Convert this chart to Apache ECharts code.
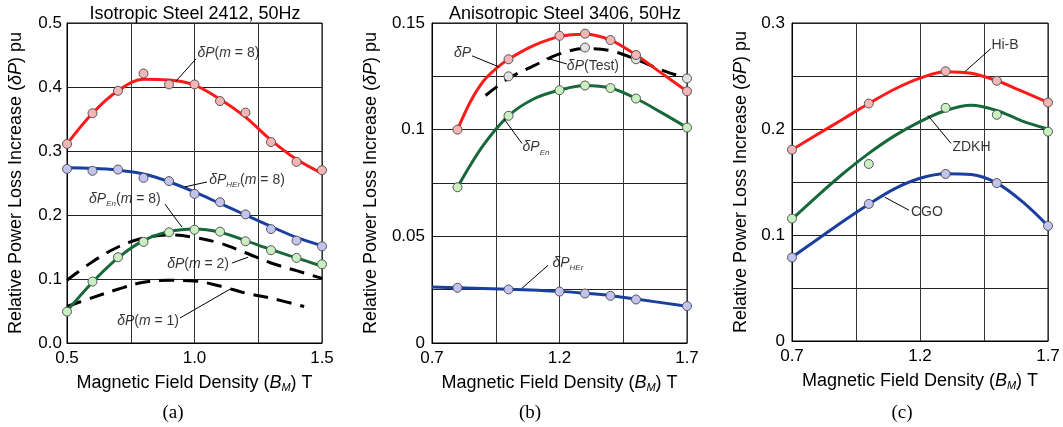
<!DOCTYPE html>
<html><head><meta charset="utf-8">
<script src="https://cdn.jsdelivr.net/npm/echarts@6/dist/echarts.min.js"></script>
<style>html,body{margin:0;padding:0;background:#fff}#c{width:1063px;height:427px}</style>
</head><body><div id="c"></div>
<script>
// ---------- Panel (a): Isotropic Steel 2412 ----------
const aB = [0.5,0.6,0.7,0.8,0.9,1.0,1.1,1.2,1.3,1.4,1.5];
const aDP8 = [0.311,0.359,0.394,0.421,0.404,0.404,0.378,0.360,0.314,0.283,0.270];
const aDP8Fit = [0.311,0.359,0.394,0.412,0.411,0.403,0.381,0.353,0.317,0.287,0.265];
const aHEr8 = [0.272,0.269,0.271,0.258,0.253,0.233,0.220,0.201,0.178,0.160,0.151];
const aHEr8Fit = [0.274,0.273,0.270,0.264,0.252,0.236,0.218,0.200,0.182,0.165,0.152];
const aEn8 = [0.049,0.096,0.134,0.158,0.173,0.177,0.174,0.159,0.145,0.133,0.123];
const aEn8Fit = [0.050,0.095,0.133,0.160,0.174,0.178,0.173,0.160,0.146,0.133,0.120];
const aDP2 = [0.098,0.127,0.150,0.164,0.169,0.165,0.156,0.141,0.125,0.113,0.101];
const aDP1B = [0.5,0.6,0.7,0.8,0.9,1.0,1.1,1.2,1.3,1.43];
const aDP1 = [0.057,0.071,0.084,0.095,0.098,0.097,0.089,0.078,0.070,0.057];

// ---------- Panel (b): Anisotropic Steel 3406 ----------
const bB = [0.8,1.0,1.2,1.3,1.4,1.5,1.7];
const bDP = [0.100,0.133,0.144,0.145,0.142,0.135,0.118];
const bDPFitB = [0.8,0.85,0.9,0.95,1.0,1.1,1.2,1.3,1.4,1.5,1.6,1.7];
const bDPFit = [0.100,0.113,0.1225,0.1285,0.133,0.1395,0.1436,0.1447,0.142,0.135,0.1265,0.118];
const bTestB = [1.0,1.3,1.5,1.7];
const bTest = [0.125,0.1385,0.133,0.124];
const bTestFitB = [0.91,1.0,1.1,1.2,1.3,1.4,1.5,1.6,1.7];
const bTestFit = [0.116,0.124,0.130,0.1355,0.138,0.137,0.133,0.128,0.124];
const bEn = [0.073,0.1065,0.1185,0.1207,0.1195,0.1146,0.101];
const bEnFitB = [0.8,0.9,1.0,1.1,1.2,1.3,1.4,1.5,1.6,1.7];
const bEnFit = [0.073,0.0925,0.1065,0.1145,0.1185,0.1207,0.1195,0.1146,0.108,0.101];
const bHEr = [0.0259,0.0251,0.0241,0.0232,0.0221,0.0204,0.0173];
const bHErFitB = [0.7,0.8,1.0,1.2,1.3,1.4,1.5,1.7];
const bHErFit = [0.0262,0.0259,0.0252,0.0242,0.0233,0.0222,0.0206,0.0172];

// ---------- Panel (c): steel grades ----------
const cB = [0.7,1.0,1.3,1.5,1.7];
const cHiB = [0.1805,0.224,0.2545,0.2455,0.225];
const cZDKH = [0.1155,0.167,0.220,0.2134,0.1975];
const cCGO = [0.0788,0.1293,0.1576,0.149,0.1086];
const cFitB = [0.7,0.8,0.9,1.0,1.1,1.2,1.3,1.4,1.5,1.6,1.7];
const cHiBFit = [0.1805,0.195,0.2095,0.224,0.2375,0.248,0.2541,0.2525,0.2455,0.2355,0.225];
const cZDKHFit = [0.115,0.137,0.158,0.177,0.1935,0.207,0.2175,0.2225,0.2175,0.2075,0.200];
const cCGOFit = [0.079,0.096,0.113,0.129,0.1435,0.1535,0.1578,0.157,0.149,0.1315,0.1086];

// ---------- annotation labels (data coordinates) ----------
const aNotes = [
  {text:'{i|δP}({i|m} = 8)', at:[1.133,0.453], from:[1.006,0.444], to:[0.927,0.409]},
  {text:'{i|δP}{s|HEr}({i|m} = 8)', at:[1.206,0.255], from:[1.049,0.2516], to:[0.963,0.244]},
  {text:'{i|δP}{s|En}({i|m} = 8)', at:[0.727,0.225], from:[0.884,0.217], to:[0.951,0.181]},
  {text:'{i|δP}({i|m} = 2)', at:[1.014,0.123], from:[1.147,0.125], to:[1.21,0.134]},
  {text:'{i|δP}({i|m} = 1)', at:[0.818,0.034], from:[0.943,0.039], to:[1.139,0.084]}
];
const bNotes = [
  {text:'{i|δP}', at:[0.82,0.136], from:[0.857,0.1346], to:[0.963,0.1294]},
  {text:'{i|δP}(Test)', at:[1.331,0.130], from:[1.229,0.1308], to:[1.147,0.1336]},
  {text:'{i|δP}{s|En}', at:[1.108,0.0916], from:[1.053,0.0935], to:[0.982,0.1051]},
  {text:'{i|δP}{s|HEr}', at:[1.233,0.0374], from:[1.155,0.0364], to:[1.053,0.0257]}
];
const cNotes = [
  {text:'Hi-B', at:[1.532,0.2787], from:[1.477,0.2759], to:[1.376,0.2542]},
  {text:'ZDKH', at:[1.401,0.1827], from:[1.321,0.1864], to:[1.231,0.2128]},
  {text:'CGO', at:[1.227,0.1215], from:[1.157,0.1234], to:[1.063,0.1356]}
];

const SANS = '"Liberation Sans", Arial, sans-serif';
const SERIF = '"Liberation Serif", "Times New Roman", serif';
const RED = '#ff1a1a', BLUE = '#1a3f9e', GREEN = '#17693a';
const RED_F = '#f5b5b5', BLUE_F = '#c3c3f0', GREEN_F = '#c8f0c0', GREY_F = '#e2e2e2';

const panels = [
  {title:'Isotropic Steel 2412, 50Hz', tag:'(a)', tagX:168, left:67, top:23, width:255, height:320,
   off:0.5, yMax:0.5, yStep:0.1, yLab:0.1, yFmt:v=>v.toFixed(1), yMargin:5, yNameGap:42, titleX:190},
  {title:'Anisotropic Steel 3406, 50Hz', tag:'(b)', tagX:525, left:432, top:23, width:255, height:320,
   off:0.7, yMax:0.15, yStep:0.025, yLab:0.05, yFmt:v=>String(+v.toFixed(3)), yMargin:7, yNameGap:52, titleX:560},
  {title:'', tag:'(c)', tagX:897, left:792, top:23, width:256, height:318,
   off:0.7, yMax:0.3, yStep:0.05, yLab:0.1, yFmt:v=>String(+v.toFixed(3)), yMargin:7, yNameGap:42, titleX:920}
];

const isMult = (v, s) => Math.abs(v / s - Math.round(v / s)) < 1e-6;
const pairs = (xs, ys, off) => xs.map((x, i) => [+(x - off).toFixed(5), ys[i]]);

const grids = [], xAxes = [], yAxes = [], titles = [], series = [];
panels.forEach((p, k) => {
  grids.push({left:p.left, top:p.top, width:p.width, height:p.height, show:true, borderColor:'#000', borderWidth:1, backgroundColor:'transparent'});
  xAxes.push({
    type:'value', gridIndex:k, min:0, max:1, interval:0.25,
    axisLine:{show:true, lineStyle:{color:'#000', width:1}}, axisTick:{show:false},
    splitLine:{show:true, lineStyle:{color:'#333', width:1}},
    axisLabel:{color:'#000', fontFamily:SANS, fontSize:17, margin:7,
      formatter:v => isMult(v, 0.5) ? (v + p.off).toFixed(1) : ''},
    name:'Magnetic Field Density ({i|B}{s|M}) T', nameLocation:'middle', nameGap:26,
    nameTextStyle:{color:'#000', fontFamily:SANS, fontSize:18, lineHeight:22,
      rich:{i:{fontStyle:'italic', fontFamily:SANS, fontSize:18, lineHeight:22, color:'#000'},
            s:{fontStyle:'italic', fontFamily:SANS, fontSize:11, lineHeight:11, verticalAlign:'bottom', color:'#000'}}}
  });
  yAxes.push({
    type:'value', gridIndex:k, min:0, max:p.yMax, interval:p.yStep,
    axisLine:{show:true, lineStyle:{color:'#000', width:1}}, axisTick:{show:false},
    splitLine:{show:true, lineStyle:{color:'#222', width:1}},
    axisLabel:{color:'#000', fontFamily:SANS, fontSize:17, margin:p.yMargin,
      formatter:v => isMult(v, p.yLab) ? p.yFmt(v) : ''},
    name:'Relative Power Loss Increase ({i|δP}) pu', nameLocation:'middle', nameRotate:90, nameGap:p.yNameGap,
    nameTextStyle:{color:'#000', fontFamily:SANS, fontSize:18,
      rich:{i:{fontStyle:'italic', fontFamily:SANS, fontSize:18, color:'#000'}}}
  });
  if (p.title) titles.push({text:p.title, left:p.titleX, top:0, textAlign:'center',
    textStyle:{color:'#000', fontFamily:SANS, fontSize:18, fontWeight:'normal'}});
  titles.push({text:p.tag, left:p.tagX, top:399, textAlign:'center',
    textStyle:{color:'#000', fontFamily:SERIF, fontSize:19, fontWeight:'normal'}});
});

function curve(k, xs, ys, color, dashed) {
  series.push({type:'line', xAxisIndex:k, yAxisIndex:k, data:pairs(xs, ys, panels[k].off),
    smooth:0.35, showSymbol:false, silent:true, z:3,
    lineStyle:{color:color, width:3, type:dashed ? [15, 9] : 'solid', cap:'butt'}});
}
function dots(k, xs, ys, fill) {
  series.push({type:'scatter', xAxisIndex:k, yAxisIndex:k, data:pairs(xs, ys, panels[k].off),
    symbol:'circle', symbolSize:9, z:5, silent:true,
    itemStyle:{color:fill, borderColor:'#555', borderWidth:1, opacity:1}});
}
function notes(k, list) {
  const off = panels[k].off;
  series.push({type:'scatter', xAxisIndex:k, yAxisIndex:k, z:8, silent:true,
    data:list.map(n => ({value:[n.at[0] - off, n.at[1]], label:{formatter:n.text}})),
    symbolSize:1, itemStyle:{color:'rgba(0,0,0,0)'},
    label:{show:true, position:'inside', color:'#000', fontFamily:SANS, fontSize:14, lineHeight:18,
      rich:{i:{fontStyle:'italic', fontFamily:SANS, fontSize:14, lineHeight:18, color:'#000'},
            s:{fontStyle:'italic', fontFamily:SANS, fontSize:8, lineHeight:9, verticalAlign:'bottom', color:'#000'}}},
    markLine:{silent:true, symbol:['none','none'], label:{show:false}, animation:false,
      lineStyle:{color:'#000', width:1, type:'solid'},
      data:list.map(n => [{coord:[n.from[0] - off, n.from[1]]}, {coord:[n.to[0] - off, n.to[1]]}])}
  });
}

// panel a
curve(0, aB, aDP2, '#000', true);
curve(0, aDP1B, aDP1, '#000', true);
curve(0, aB, aDP8Fit, RED, false);
curve(0, aB, aHEr8Fit, BLUE, false);
curve(0, aB, aEn8Fit, GREEN, false);
dots(0, aB, aDP8, RED_F);
dots(0, aB, aHEr8, BLUE_F);
dots(0, aB, aEn8, GREEN_F);
notes(0, aNotes);
// panel b
curve(1, bTestFitB, bTestFit, '#000', true);
curve(1, bDPFitB, bDPFit, RED, false);
curve(1, bEnFitB, bEnFit, GREEN, false);
curve(1, bHErFitB, bHErFit, BLUE, false);
dots(1, bTestB, bTest, GREY_F);
dots(1, bB, bDP, RED_F);
dots(1, bB, bEn, GREEN_F);
dots(1, bB, bHEr, BLUE_F);
notes(1, bNotes);
// panel c
curve(2, cFitB, cHiBFit, RED, false);
curve(2, cFitB, cZDKHFit, GREEN, false);
curve(2, cFitB, cCGOFit, BLUE, false);
dots(2, cB, cHiB, RED_F);
dots(2, cB, cZDKH, GREEN_F);
dots(2, cB, cCGO, BLUE_F);
notes(2, cNotes);

const chart = echarts.init(document.getElementById('c'), null, {renderer:'canvas'});
chart.setOption({
  backgroundColor:'#fff', animation:false,
  title:titles, grid:grids, xAxis:xAxes, yAxis:yAxes, series:series
});
</script></body></html>
